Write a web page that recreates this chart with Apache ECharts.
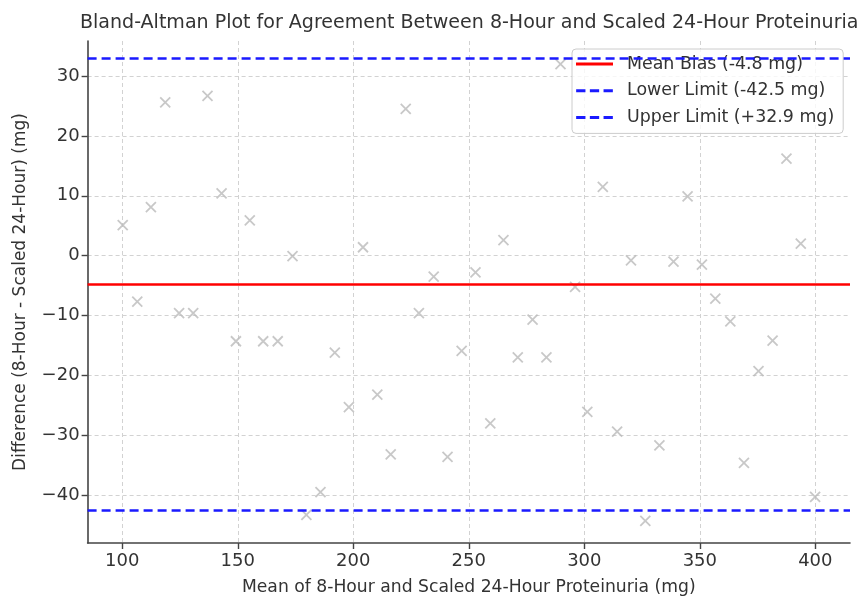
<!DOCTYPE html>
<html>
<head>
<meta charset="utf-8">
<script src="https://cdn.jsdelivr.net/npm/echarts@6/dist/echarts.min.js"></script>
<style>html,body{margin:0;padding:0;background:#fff;}#c{width:859px;height:601px;}</style>
</head>
<body>
<div id="c"></div>
<script>
// Mean of 8-hour and scaled 24-hour proteinuria (mg)
const meanVals = [100.2, 106.5, 112.4, 118.6, 124.6, 130.7, 136.9, 143.0, 149.2, 155.2,
                  161.0, 167.3, 173.7, 179.7, 185.8, 192.0, 198.1, 204.2, 210.4, 216.2,
                  222.7, 228.4, 234.8, 240.8, 246.9, 252.9, 259.3, 265.0, 271.2, 277.6,
                  283.6, 289.7, 296.0, 301.3, 308.0, 314.2, 320.2, 326.4, 332.5, 338.6,
                  344.7, 350.9, 356.7, 363.2, 369.1, 375.4, 381.5, 387.5, 393.7, 399.9];
// Difference (8-hour - scaled 24-hour) (mg)
const diffVals = [5.1, -7.7, 8.1, 25.6, -9.6, -9.6, 26.7, 10.4, -14.3, 5.9,
                  -14.3, -14.3, -0.1, -43.3, -39.5, -16.2, -25.3, 1.4, -23.2, -33.2,
                  24.5, -9.6, -3.5, -33.6, -15.9, -2.8, -28.0, 2.6, -17.0, -10.7,
                  -17.0, 32.0, -5.2, -26.1, 11.5, -29.4, -0.8, -44.3, -31.7, -1.0,
                  9.9, -1.5, -7.2, -11.0, -34.6, -19.3, -14.2, 16.2, 2.0, -40.3];
const meanBias = -4.8;
const lowerLimit = -42.5;
const upperLimit = 32.9;
const xTicks = [100, 150, 200, 250, 300, 350, 400];
const yTicks = [-40, -30, -20, -10, 0, 10, 20, 30];
const lineNames = ['Mean Bias (-4.8 mg)', 'Lower Limit (-42.5 mg)', 'Upper Limit (+32.9 mg)'];

const FONT = 'DejaVu Sans';
const TXT = '#333';
const points = meanVals.map((m, i) => [m, diffVals[i]]);

const ICON_SOLID = 'path://M0,0h37v3h-37z';
const ICON_DASH = 'path://M0,0h9.3v3h-9.3zM13.7,0h9.3v3h-9.3zM27.4,0h9.3v3h-9.3z';

function limitSeries(name, value, color, type) {
  return {
    name: name,
    type: 'line',
    data: [],
    symbol: 'none',
    lineStyle: { color: color, width: 2.6, type: type },
    itemStyle: { color: color },
    markLine: {
      silent: true,
      symbol: ['none', 'none'],
      label: { show: false },
      lineStyle: { color: color, width: 2.6, type: type },
      data: [{ yAxis: value }]
    }
  };
}

const chart = echarts.init(document.getElementById('c'), null, { renderer: 'canvas' });
chart.setOption({
  animation: false,
  backgroundColor: '#fff',
  title: {
    text: 'Bland-Altman Plot for Agreement Between 8-Hour and Scaled 24-Hour Proteinuria',
    left: 80, top: 14, padding: 0,
    textStyle: { fontFamily: FONT, fontSize: 19.05, fontWeight: 'normal', color: TXT }
  },
  legend: {
    orient: 'vertical',
    left: 572, top: 49,
    padding: [6, 9, 7, 4],
    itemWidth: 37, itemHeight: 3, itemGap: 8.7,
    backgroundColor: 'rgba(255,255,255,0.8)',
    borderColor: '#cccccc', borderWidth: 1, borderRadius: 4,
    textStyle: { fontFamily: FONT, fontSize: 17.4, color: TXT, lineHeight: 18, padding: [0, 0, 0, 9] },
    data: [
      { name: lineNames[0], icon: ICON_SOLID },
      { name: lineNames[1], icon: ICON_DASH },
      { name: lineNames[2], icon: ICON_DASH }
    ]
  },
  grid: { left: 87.6, right: 9, top: 41, bottom: 49.3, containLabel: false },
  xAxis: {
    type: 'value', min: 85, max: 415,
    name: 'Mean of 8-Hour and Scaled 24-Hour Proteinuria (mg)',
    nameLocation: 'middle', nameGap: 36,
    nameTextStyle: { fontFamily: FONT, fontSize: 17.2, color: TXT },
    axisLine: { show: true, onZero: false, lineStyle: { color: '#444', width: 1.6 } },
    axisTick: { show: true, length: 6, customValues: xTicks, lineStyle: { color: '#444', width: 1.4 } },
    axisLabel: { customValues: xTicks, fontFamily: FONT, fontSize: 18, color: TXT, margin: 9 },
    splitLine: { show: true, lineStyle: { color: '#d2d2d2', width: 1, type: [4, 3] } }
  },
  yAxis: {
    type: 'value', min: -48.0, max: 35.85,
    name: 'Difference (8-Hour - Scaled 24-Hour) (mg)',
    nameLocation: 'middle', nameGap: 59, nameRotate: 90,
    nameTextStyle: { fontFamily: FONT, fontSize: 17, color: TXT },
    axisLine: { show: true, onZero: false, lineStyle: { color: '#444', width: 1.6 } },
    axisTick: { show: true, length: 6, customValues: yTicks, lineStyle: { color: '#444', width: 1.4 } },
    axisLabel: {
      customValues: yTicks, fontFamily: FONT, fontSize: 18, color: TXT, margin: 8,
      formatter: v => (v < 0 ? '\u2212' + Math.abs(v) : String(v))
    },
    splitLine: { show: true, lineStyle: { color: '#d2d2d2', width: 1, type: [4, 3] } }
  },
  series: [
    {
      name: 'points',
      type: 'scatter',
      data: points,
      symbol: 'path://M0,0L10,10M10,0L0,10',
      symbolSize: 10,
      itemStyle: { color: 'rgba(0,0,0,0)', borderColor: '#bababa', borderWidth: 1.8 },
      z: 1,
      silent: true
    },
    limitSeries(lineNames[0], meanBias, '#ff0000', 'solid'),
    limitSeries(lineNames[1], lowerLimit, '#1a1aff', [9, 5]),
    limitSeries(lineNames[2], upperLimit, '#1a1aff', [9, 5])
  ]
});
</script>
</body>
</html>
